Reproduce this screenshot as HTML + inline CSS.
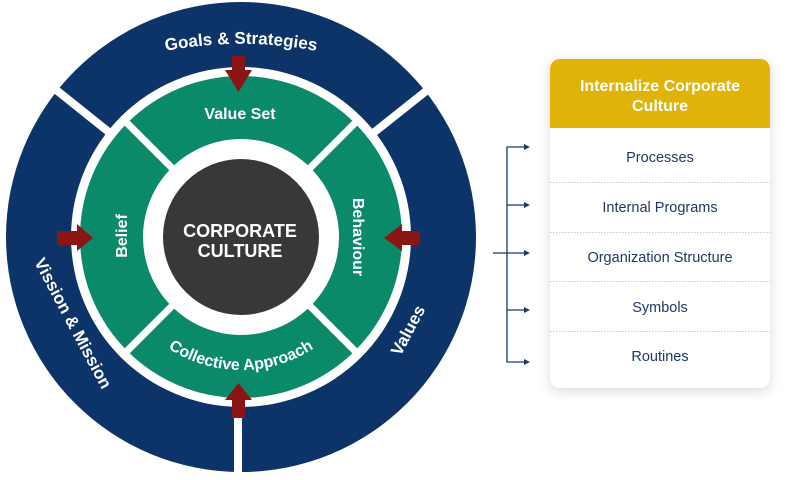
<!DOCTYPE html>
<html><head><meta charset="utf-8"><style>
html,body{margin:0;padding:0;background:#fff;width:801px;height:480px;overflow:hidden;font-family:"Liberation Sans",sans-serif}
</style></head><body>
<svg width="801" height="480" viewBox="0 0 801 480" xmlns="http://www.w3.org/2000/svg" style="position:absolute;left:0;top:0">
<defs>
<filter id="sh" x="-20%" y="-20%" width="140%" height="140%"><feDropShadow dx="0" dy="3" stdDeviation="6" flood-color="#000" flood-opacity="0.15"/></filter>
<path id="topArc" d="M 91 73 A 400 400 0 0 1 391 73"/>
<path id="botArc" d="M 108 237 A 133 133 0 0 0 374 237"/>
</defs>
<circle cx="241" cy="237" r="235" fill="#0d3468"/>
<circle cx="241" cy="237" r="170" fill="#fff"/>
<line x1="115" y1="137" x2="40" y2="77" stroke="#fff" stroke-width="8"/>
<line x1="367" y1="138" x2="445" y2="76" stroke="#fff" stroke-width="8"/>
<line x1="238" y1="400" x2="238" y2="480" stroke="#fff" stroke-width="8"/>
<circle cx="241" cy="237" r="161" fill="#0b8a6a"/>
<line x1="174" y1="170" x2="124" y2="120" stroke="#fff" stroke-width="7"/>
<line x1="308" y1="170" x2="358" y2="120" stroke="#fff" stroke-width="7"/>
<line x1="174" y1="304" x2="124" y2="354" stroke="#fff" stroke-width="7"/>
<line x1="308" y1="304" x2="358" y2="354" stroke="#fff" stroke-width="7"/>
<circle cx="241" cy="237" r="98" fill="#fff"/>
<circle cx="241" cy="237" r="78" fill="#383838"/>
<g fill="#8b1414">
<polygon points="232,56 245,56 245,70 252,70 238.5,92 225,70 232,70"/>
<polygon points="57,231 77,231 77,224 93,238 77,251 77,245 57,245"/>
<polygon points="420,231 402,231 402,224 384,238 402,251 402,245 420,245"/>
<polygon points="232,418 245,418 245,400 252,400 238.5,383 225,400 232,400"/>
</g>
<g fill="#fff" font-family="Liberation Sans, sans-serif" font-weight="bold">
<text font-size="17"><textPath href="#topArc" startOffset="50%" text-anchor="middle">Goals &amp; Strategies</textPath></text>
<text font-size="16"><textPath href="#botArc" startOffset="50%" text-anchor="middle">Collective Approach</textPath></text>
<text x="240" y="119" font-size="16" text-anchor="middle">Value Set</text>
<text transform="translate(127,236) rotate(-90)" font-size="16" text-anchor="middle">Belief</text>
<text transform="translate(353,237) rotate(90)" font-size="16" text-anchor="middle">Behaviour</text>
<text transform="translate(68,326) rotate(62)" font-size="17" text-anchor="middle">Vission &amp; Mission</text>
<text transform="translate(413,333) rotate(-62)" font-size="17" text-anchor="middle">Values</text>
<text x="240" y="237" font-size="18" text-anchor="middle">CORPORATE</text>
<text x="240" y="257" font-size="18" text-anchor="middle">CULTURE</text>
</g>
<g stroke="#1a3a6b" stroke-width="1.3" fill="none">
<polyline points="525,147 507,147 507,362 525,362"/>
<line x1="507" y1="205" x2="525" y2="205"/>
<line x1="493" y1="253" x2="525" y2="253"/>
<line x1="507" y1="310" x2="525" y2="310"/>
</g>
<g fill="#1a3a6b">
<polygon points="524,144 530,147 524,150"/>
<polygon points="524,202 530,205 524,208"/>
<polygon points="524,250 530,253 524,256"/>
<polygon points="524,307 530,310 524,313"/>
<polygon points="524,359 530,362 524,365"/>
</g>
<rect x="550" y="59" width="220" height="329" rx="10" fill="#fff" filter="url(#sh)"/>
<path d="M550 128 V69 A10 10 0 0 1 560 59 H760 A10 10 0 0 1 770 69 V128 Z" fill="#e0b308"/>
<g fill="#fff" font-weight="bold" font-size="16" text-anchor="middle">
<text x="660" y="91">Internalize Corporate</text>
<text x="660" y="111">Culture</text>
</g>
<g stroke="#c8c8c8" stroke-width="1" stroke-dasharray="1.5,1.5">
<line x1="550" y1="182.5" x2="770" y2="182.5"/>
<line x1="550" y1="232.5" x2="770" y2="232.5"/>
<line x1="550" y1="281.5" x2="770" y2="281.5"/>
<line x1="550" y1="331.5" x2="770" y2="331.5"/>
</g>
<g fill="#1f3864" font-size="14.5" text-anchor="middle">
<text x="660" y="162">Processes</text>
<text x="660" y="212">Internal Programs</text>
<text x="660" y="262">Organization Structure</text>
<text x="660" y="312">Symbols</text>
<text x="660" y="361">Routines</text>
</g>
</svg>
</body></html>
